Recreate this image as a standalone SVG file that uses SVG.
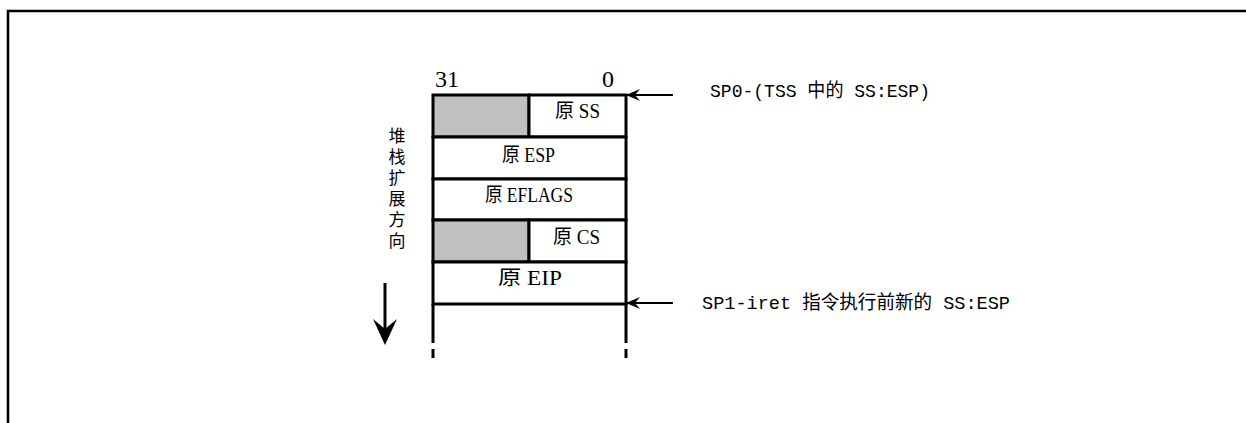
<svg xmlns="http://www.w3.org/2000/svg" width="1246" height="423" viewBox="0 0 1246 423">
<style>
.frame{fill:none;stroke:#000;stroke-width:2.6}
.cell{fill:#fff;stroke:#000;stroke-width:3}
.gray{fill:#c0c0c0;stroke:#000;stroke-width:3}
.ln{stroke:#000;stroke-width:3;fill:none}
.conn{stroke:#000;stroke-width:2;fill:none}
.t{font-family:"Liberation Serif","Noto Sans CJK SC",serif;font-size:20px;fill:#000}
.num{font-family:"Liberation Serif",serif;font-size:24px;fill:#000}
.lab{font-family:"Liberation Mono","Noto Sans CJK SC",monospace;font-size:19px;fill:#000}
.vt{font-family:"Noto Sans CJK SC",sans-serif;font-size:17px;fill:#000;writing-mode:vertical-rl;text-orientation:upright;letter-spacing:4px}
</style>
<defs>
<marker id="ah" viewBox="0 0 14 12" refX="13" refY="6" markerWidth="14" markerHeight="12" markerUnits="userSpaceOnUse" orient="auto">
<path d="M14,6 L0,0 L5,6 L0,12 Z" fill="#000"/>
</marker>
</defs>
<rect width="1246" height="423" fill="#fff"/>
<path class="frame" d="M8,423 V11 H1246"/>

<g id="header">
<text class="num" x="435" y="87">31</text>
<text class="num" x="602" y="87">0</text>
</g>

<g id="row-ss">
<rect class="gray" x="433" y="95" width="96" height="42"/>
<rect class="cell" x="529" y="95" width="97" height="42"/>
<text class="t" x="555" y="118" textLength="45" lengthAdjust="spacingAndGlyphs">原 SS</text>
</g>
<g id="row-esp">
<rect class="cell" x="433" y="137" width="193" height="42"/>
<text class="t" x="502" y="162" textLength="53" lengthAdjust="spacingAndGlyphs">原 ESP</text>
</g>
<g id="row-eflags">
<rect class="cell" x="433" y="179" width="193" height="41"/>
<text class="t" x="485" y="202" textLength="88" lengthAdjust="spacingAndGlyphs">原 EFLAGS</text>
</g>
<g id="row-cs">
<rect class="gray" x="433" y="220" width="96" height="42"/>
<rect class="cell" x="529" y="220" width="97" height="42"/>
<text class="t" x="553" y="244" textLength="47" lengthAdjust="spacingAndGlyphs">原 CS</text>
</g>
<g id="row-eip">
<rect class="cell" x="433" y="262" width="193" height="42"/>
<text class="t" x="498" y="285" textLength="64" lengthAdjust="spacingAndGlyphs">原  EIP</text>
</g>
<g id="stack-tail">
<path class="ln" d="M433,304 V343 M626,304 V343 M433,349 V358 M626,349 V358"/>
</g>

<g id="direction">
<text class="vt" x="397" y="127">堆栈扩展方向</text>
</g>

<g id="connectors">
<line class="ln" x1="385" y1="283" x2="385" y2="330"/>
<path d="M385,345 L373,319 L385,329 L397,319 Z" fill="#000"/>
<line class="conn" x1="673" y1="95" x2="627" y2="95" marker-end="url(#ah)"/>
<line class="conn" x1="673" y1="303" x2="627" y2="303" marker-end="url(#ah)"/>
</g>

<g id="label-sp0">
<text class="lab" x="710" y="97" textLength="220" lengthAdjust="spacingAndGlyphs">SP0-(TSS 中的 SS:ESP)</text>
</g>
<g id="label-sp1">
<text class="lab" x="702" y="309" textLength="308" lengthAdjust="spacingAndGlyphs">SP1-iret 指令执行前新的 SS:ESP</text>
</g>
</svg>
